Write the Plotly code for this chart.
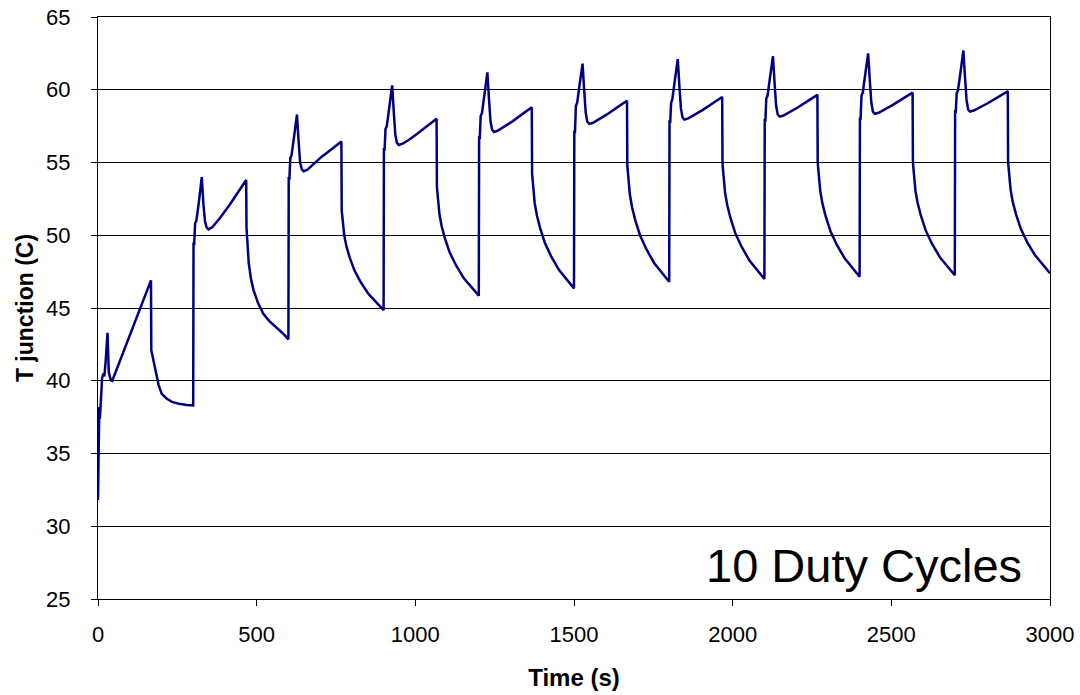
import plotly.graph_objects as go

# ---- data (time in s, junction temperature in C) ----
t_c0 = [0, 1, 2, 4, 6, 9, 13, 17, 20, 24, 30, 34, 40, 45, 70, 100, 130, 150, 167, 168,
        175, 181, 191, 201, 215, 233, 255, 280, 300]
T_c0 = [31.8, 35.0, 37.2, 38.2, 37.4, 39.0, 40.2, 40.5, 40.3, 41.3, 43.3, 40.6, 40.05, 40.0,
        41.4, 43.1, 44.8, 45.9, 46.9, 42.1, 41.3, 40.7, 39.7, 39.1, 38.8, 38.55, 38.42, 38.33, 38.3]

t_c1 = [301, 303, 306, 310, 318, 327, 332, 337, 342, 348, 360, 385, 415, 445, 467, 468,
        471, 475, 482, 490, 505, 521, 540, 563, 583, 600]
T_c1 = [49.5, 49.3, 50.8, 51.0, 52.3, 54.0, 52.2, 51.0, 50.55, 50.4, 50.55, 51.2, 52.1, 53.05,
        53.8, 50.5, 49.3, 48.1, 47.0, 46.25, 45.3, 44.6, 44.1, 43.65, 43.25, 42.85]

t_c2 = [601, 603, 606, 610, 618, 627, 632, 637, 642, 648, 660, 680, 705, 735, 767, 768,
        771, 776, 783, 793, 808, 828, 853, 878, 900]
T_c2 = [54.0, 53.8, 55.3, 55.5, 56.8, 58.3, 56.5, 55.0, 54.55, 54.4, 54.5, 54.9, 55.4, 55.9,
        56.45, 51.7, 50.95, 49.99, 49.23, 48.48, 47.59, 46.77, 45.95, 45.33, 44.85]

t_c3 = [901, 903, 906, 910, 918, 927, 932, 937, 942, 948, 960, 980, 1005, 1035, 1067, 1068,
        1071, 1076, 1083, 1093, 1108, 1128, 1153, 1178, 1200]
T_c3 = [56.0, 55.8, 57.3, 57.5, 58.8, 60.3, 58.5, 56.9, 56.35, 56.2, 56.29, 56.56, 56.96, 57.46,
        58.0, 53.3, 52.48, 51.44, 50.62, 49.80, 48.83, 47.94, 47.04, 46.37, 45.85]

t_c4 = [1201, 1203, 1206, 1210, 1218, 1227, 1232, 1237, 1242, 1248, 1260, 1280, 1305, 1335, 1367,
        1368, 1371, 1376, 1383, 1393, 1408, 1428, 1453, 1478, 1500]
T_c4 = [56.8, 56.6, 58.2, 58.4, 59.7, 61.2, 59.4, 57.8, 57.25, 57.1, 57.19, 57.44, 57.81, 58.29,
        58.8, 54.2, 53.34, 52.24, 51.37, 50.51, 49.49, 48.55, 47.61, 46.90, 46.35]

t_c5 = [1501, 1503, 1506, 1510, 1518, 1527, 1532, 1537, 1542, 1548, 1560, 1580, 1605, 1635, 1667,
        1668, 1671, 1676, 1683, 1693, 1708, 1728, 1753, 1778, 1800]
T_c5 = [57.2, 57.0, 58.9, 59.1, 60.4, 61.8, 60.0, 58.4, 57.8, 57.65, 57.73, 57.97, 58.32, 58.77,
        59.25, 54.8, 53.92, 52.8, 51.92, 51.04, 50.0, 49.04, 48.08, 47.36, 46.8]

t_c6 = [1801, 1803, 1806, 1810, 1818, 1827, 1832, 1837, 1842, 1848, 1860, 1880, 1905, 1935, 1967,
        1968, 1971, 1976, 1983, 1993, 2008, 2028, 2053, 2078, 2100]
T_c6 = [57.9, 57.7, 59.1, 59.35, 60.7, 62.1, 60.3, 58.7, 58.1, 57.95, 58.03, 58.26, 58.6, 59.04,
        59.5, 54.9, 54.03, 52.93, 52.06, 51.19, 50.16, 49.21, 48.26, 47.55, 47.0]

t_c7 = [2101, 2103, 2106, 2110, 2118, 2127, 2132, 2137, 2142, 2148, 2160, 2180, 2205, 2235, 2267,
        2268, 2271, 2276, 2283, 2293, 2308, 2328, 2353, 2378, 2400]
T_c7 = [58.0, 57.8, 59.4, 59.6, 60.9, 62.3, 60.5, 58.9, 58.3, 58.15, 58.23, 58.45, 58.78, 59.2,
        59.65, 55.0, 54.14, 53.04, 52.17, 51.31, 50.29, 49.35, 48.41, 47.70, 47.15]

t_c8 = [2401, 2403, 2406, 2410, 2418, 2427, 2432, 2437, 2442, 2448, 2460, 2480, 2505, 2535, 2567,
        2568, 2571, 2576, 2583, 2593, 2608, 2628, 2653, 2678, 2700]
T_c8 = [58.1, 57.9, 59.6, 59.8, 61.1, 62.5, 60.7, 59.1, 58.5, 58.35, 58.42, 58.64, 58.96, 59.37,
        59.8, 55.0, 54.15, 53.06, 52.21, 51.36, 50.35, 49.42, 48.49, 47.79, 47.25]

t_c9 = [2701, 2703, 2706, 2710, 2718, 2727, 2732, 2737, 2742, 2748, 2760, 2780, 2805, 2835, 2867,
        2868, 2871, 2876, 2883, 2893, 2908, 2928, 2953, 2978, 3000]
T_c9 = [58.6, 58.4, 59.75, 59.95, 61.2, 62.7, 60.9, 59.3, 58.65, 58.5, 58.57, 58.78, 59.09, 59.48,
        59.9, 55.0, 54.16, 53.1, 52.26, 51.43, 50.44, 49.53, 48.62, 47.93, 47.4]

x_ticks = [0, 500, 1000, 1500, 2000, 2500, 3000]
y_ticks = [25, 30, 35, 40, 45, 50, 55, 60, 65]

time_s = t_c0 + t_c1 + t_c2 + t_c3 + t_c4 + t_c5 + t_c6 + t_c7 + t_c8 + t_c9
temp_c = T_c0 + T_c1 + T_c2 + T_c3 + T_c4 + T_c5 + T_c6 + T_c7 + T_c8 + T_c9

FONT = "Liberation Sans, Arial, sans-serif"

fig = go.Figure()
fig.add_trace(go.Scatter(
    x=time_s, y=temp_c, mode="lines",
    line=dict(color="#000080", width=2.5),
    showlegend=False, hoverinfo="x+y",
))

fig.add_annotation(
    text="10 Duty Cycles", xref="paper", yref="paper",
    x=0.9725, y=0.058, xanchor="right", yanchor="middle",
    showarrow=False, font=dict(family=FONT, size=47, color="black"),
)

fig.update_layout(
    width=1080, height=695,
    margin=dict(l=98, r=30, t=17, b=96, autoexpand=False),
    paper_bgcolor="white", plot_bgcolor="white",
    font=dict(family=FONT, color="black"),
)
fig.update_xaxes(
    range=[0, 3000], tickvals=x_ticks, ticktext=[str(v) for v in x_ticks],
    showline=True, linecolor="black", linewidth=1, mirror=True,
    ticks="outside", ticklen=6, tickcolor="black", tickwidth=1,
    showgrid=False, zeroline=False, ticklabelstandoff=10,
    tickfont=dict(family=FONT, size=22, color="black"),
    title=dict(text="<b>Time (s)</b>", font=dict(family=FONT, size=24, color="black"), standoff=22),
)
fig.update_yaxes(
    range=[25, 65], tickvals=y_ticks, ticktext=[str(v) for v in y_ticks],
    showline=True, linecolor="black", linewidth=1, mirror=True,
    ticks="outside", ticklen=6, tickcolor="black", tickwidth=1,
    showgrid=True, gridcolor="black", gridwidth=1, zeroline=False, ticklabelstandoff=16,
    tickfont=dict(family=FONT, size=22, color="black"),
    title=dict(text="<b>T junction (C)</b>", font=dict(family=FONT, size=23, color="black"), standoff=6),
)

fig.write_html(
    "out.html",
    config={"displayModeBar": False},
    post_script="document.body.style.margin='0';document.body.style.overflow='hidden';",
)
